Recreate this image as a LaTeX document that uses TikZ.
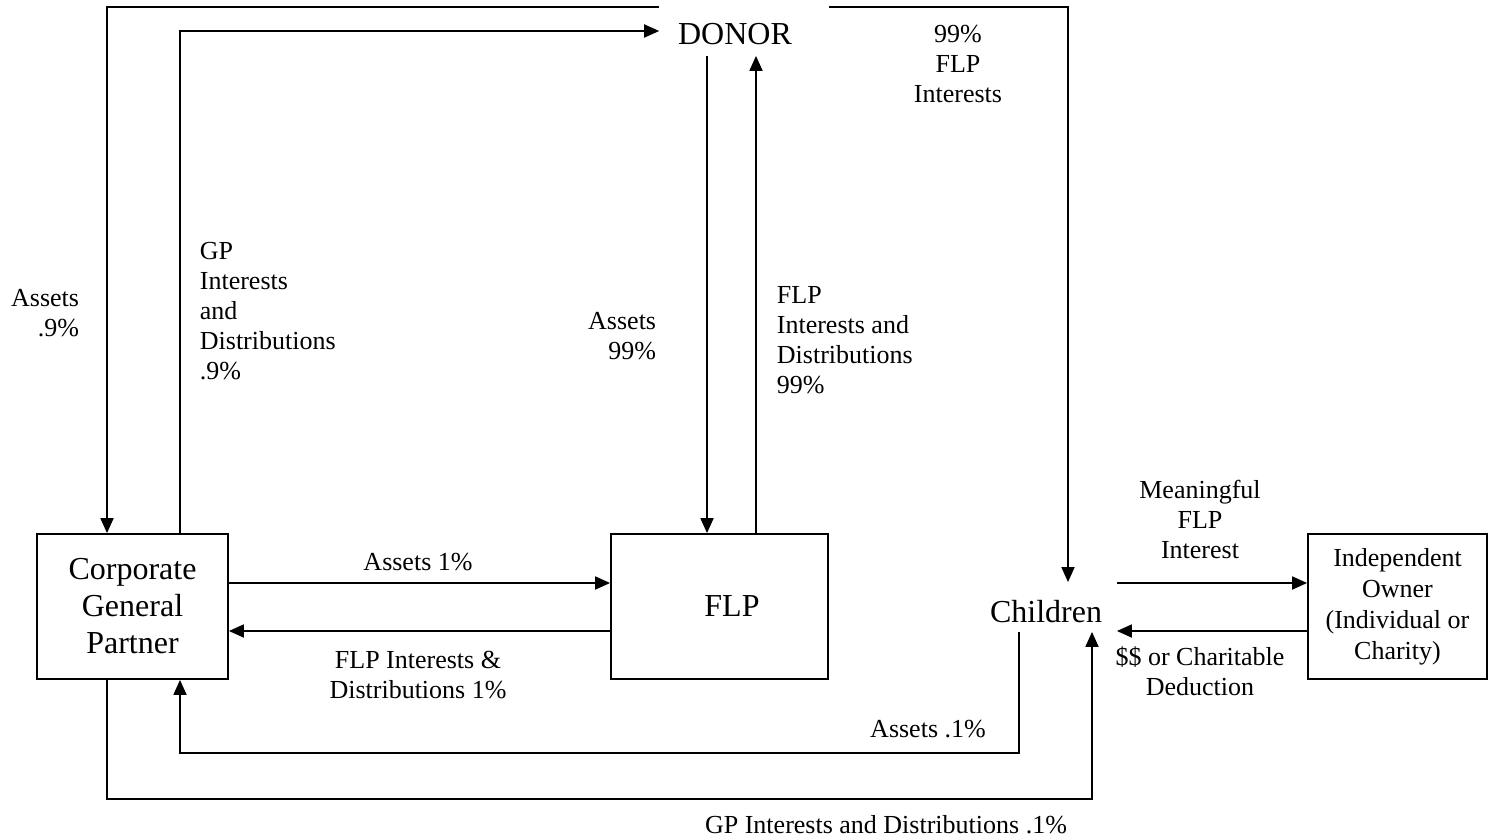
\documentclass[tikz,border=0pt]{standalone}
\usepackage{fontspec}
\setmainfont{Liberation Serif}
\usetikzlibrary{arrows.meta}
\begin{document}
\begin{tikzpicture}[x=1pt,y=-1pt,
  line width=1.8pt,
  arr/.style={-{Triangle[length=15pt,width=13pt]}},
  bigtext/.style={font=\fontsize{32}{37}\selectfont, align=center},
  smalltext/.style={font=\fontsize{26}{30}\selectfont, inner sep=0pt},
  boxnode/.style={draw, bigtext, minimum height=145pt, inner sep=0pt}]
\useasboundingbox (0,0) rectangle (1488,840);

% parties
\node[bigtext, anchor=base, inner xsep=18pt, inner ysep=0pt, text depth=10pt] (donor) at (735,45) {DONOR};
\node[boxnode, minimum width=191pt] (corp) at (132.5,606.5) {Corporate\\General\\Partner};
\node[boxnode, minimum width=217pt] (flp) at (719.5,606.5) {\hspace*{25pt}FLP};
\node[bigtext, anchor=base, inner xsep=14pt, inner ysep=0pt, text height=39pt, text depth=9pt] (children) at (1046,622) {Children};
\node[draw, minimum width=179pt, minimum height=145pt, inner sep=0pt,
      font=\fontsize{26}{31}\selectfont, align=center] (indep) at (1397.5,606.5)
      {Independent\\Owner\\(Individual or\\Charity)};

% flows between donor and the partnership
\draw[arr] (donor.west |- 0,7) -| (corp.north -| 107,0);
\draw[arr] (corp.north -| 180,0) |- (donor.west |- 0,31);
\draw[arr] (donor.south -| 707,0) -- (flp.north -| 707,0);
\draw[arr] (flp.north -| 756,0) -- (donor.south -| 756,0);
\draw[arr] ([xshift=18pt]donor.east |- 0,7) -| (children.north -| 1068,0);

% general partner and FLP
\draw[arr] (corp.east |- 0,583) -- (flp.west |- 0,583);
\draw[arr] (flp.west |- 0,631) -- (corp.east |- 0,631);

% children and independent owner
\draw[arr] (children.east |- 0,583) -- (indep.west |- 0,583);
\draw[arr] (indep.west |- 0,631) -- (children.east |- 0,631);

% children and general partner
\draw[arr] (children.south -| 1019,0) -- ++(0,121) -| (corp.south -| 180,0);
\draw[arr] (corp.south -| 107,0) -- ++(0,119) -| (children.south -| 1092,0);

% labels
\node[smalltext, align=right, anchor=east] (lassets9) at (80,313) {Assets\\.9\%};
\node[smalltext, align=left, anchor=west] (lgp9) at (199,311) {GP\\Interests\\and\\Distributions\\.9\%};
\node[smalltext, align=right, anchor=east] (lassets99) at (657,336) {Assets\\99\%};
\node[smalltext, align=left, anchor=west] (lflp99) at (776,340) {FLP\\Interests and\\Distributions\\99\%};
\node[smalltext, align=center] (lchild99) at (958,64) {99\%\\FLP\\Interests};
\node[smalltext] (lassets1) at (418,562) {Assets 1\%};
\node[smalltext, align=center] (lflp1) at (418,675) {FLP Interests \&\\Distributions 1\%};
\node[smalltext, align=center] (lmean) at (1200,519) {Meaningful\\FLP\\Interest};
\node[smalltext, align=center] (lcash) at (1200,671) {\$\$ or Charitable\\Deduction};
\node[smalltext] (lassets01) at (928,729) {Assets .1\%};
\node[smalltext] (lgp01) at (886,825) {GP Interests and Distributions .1\%};
\end{tikzpicture}
\end{document}
